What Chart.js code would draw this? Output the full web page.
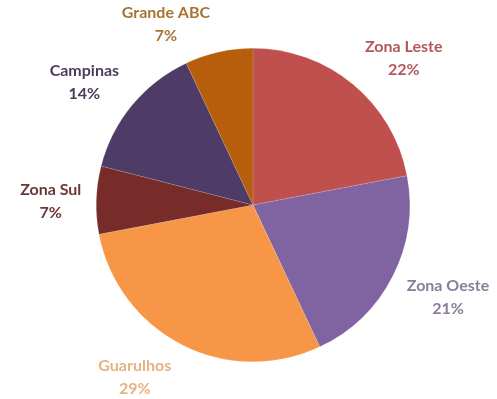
<!DOCTYPE html>
<html>
<head>
<meta charset="utf-8">
<script src="https://cdn.jsdelivr.net/npm/chart.js@4/dist/chart.umd.min.js"></script>
<style>
    html, body { margin: 0; padding: 0; background: #ffffff; }
    #wrap { width: 497px; height: 399px; position: relative; }
</style>
</head>
<body>
<div id="wrap"><canvas id="regionPie"></canvas></div>
<script>
// participação por região
const regions = ['Zona Leste', 'Zona Oeste', 'Guarulhos', 'Zona Sul', 'Campinas', 'Grande ABC'];
const shares = [22, 21, 29, 7, 14, 7];
const sliceColors = ['#c0504d', '#8064a2', '#f79646', '#772c2a', '#4e3c66', '#b65e0b'];
const labelColors = ['#b3585a', '#8a7d9c', '#e6b383', '#6b3636', '#4a3c5c', '#a77433'];

// rótulos fora da fatia: nome + percentual, alinhados pelo lado da pizza
const outsideLabels = {
    id: 'outsideLabels',
    afterDatasetsDraw(chart) {
        const { ctx } = chart;
        const meta = chart.getDatasetMeta(0);
        const total = shares.reduce((a, b) => a + b, 0);
        const lineH = 23;
        ctx.save();
        ctx.font = 'bold 16px Lato, "Open Sans", sans-serif';
        ctx.textAlign = 'center';
        ctx.textBaseline = 'middle';
        meta.data.forEach((arc, i) => {
            const p = arc.getProps(['x', 'y', 'startAngle', 'endAngle', 'outerRadius'], true);
            const mid = (p.startAngle + p.endAngle) / 2;
            const r = p.outerRadius + 8;
            const ax = p.x + Math.cos(mid) * r;
            const ay = p.y + Math.sin(mid) * r;
            const name = regions[i];
            const pct = Math.round(shares[i] / total * 100) + '%';
            const w = Math.max(ctx.measureText(name).width, ctx.measureText(pct).width);
            const cx = ax + Math.sign(Math.cos(mid)) * (w / 2 + 7);
            const k = Math.max(-1, Math.min(1, Math.sin(mid) / 0.7));
            const cy = ay + lineH * k + 3;
            ctx.fillStyle = labelColors[i];
            ctx.fillText(name, cx, cy - lineH / 2);
            ctx.fillText(pct, cx, cy + lineH / 2);
        });
        ctx.restore();
    }
};

new Chart(document.getElementById('regionPie').getContext('2d'), {
    type: 'pie',
    data: {
        labels: regions,
        datasets: [{
            data: shares,
            backgroundColor: sliceColors,
            borderColor: 'rgba(255,255,255,0.25)',
            borderWidth: 0.5,
        }],
    },
    options: {
        responsive: true,
        maintainAspectRatio: false,
        animation: false,
        layout: { padding: { top: 48, bottom: 37, left: 9, right: 0 } },
        plugins: {
            legend: { display: false },
            tooltip: { enabled: false },
        },
    },
    plugins: [outsideLabels],
});
</script>
</body>
</html>
